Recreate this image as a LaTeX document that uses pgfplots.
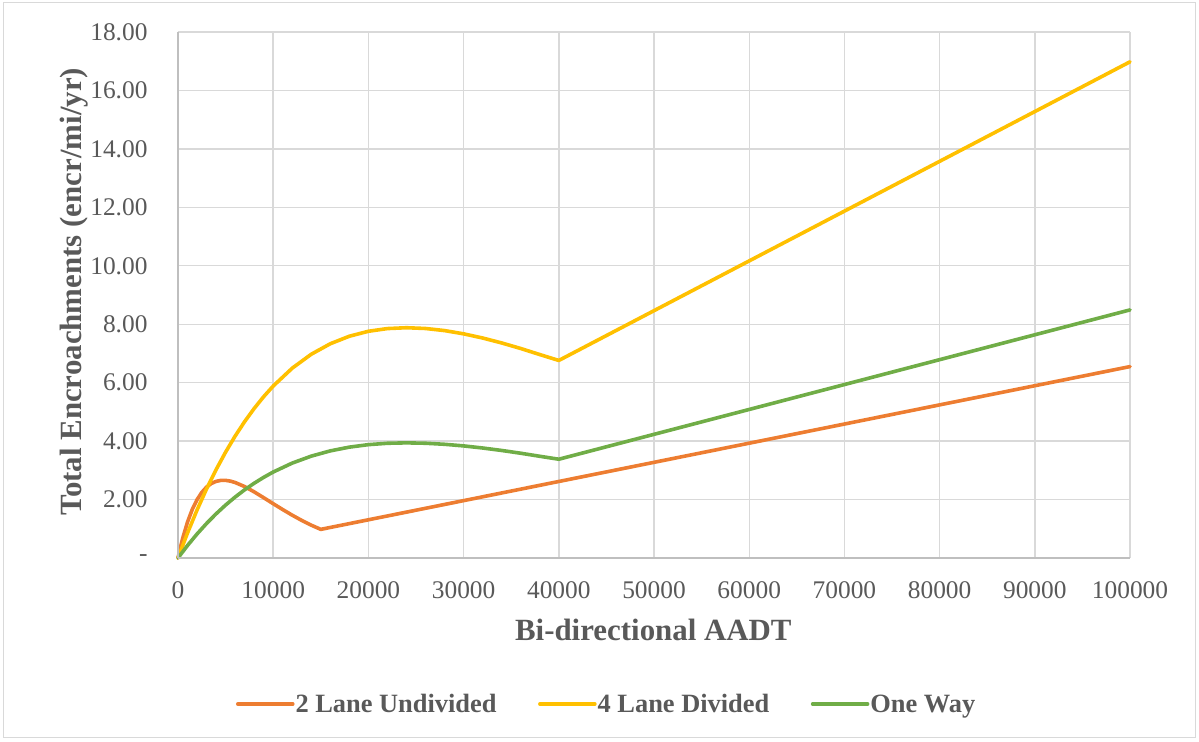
\documentclass[border=0pt]{standalone}
\usepackage{fontspec}
\setmainfont{Liberation Serif}
\usepackage{pgfplots}
\pgfplotsset{compat=1.18}
\definecolor{cOrange}{HTML}{ED7D31}
\definecolor{cYellow}{HTML}{FFC000}
\definecolor{cGreen}{HTML}{70AD47}
\definecolor{cGrid}{HTML}{D9D9D9}
\definecolor{cText}{HTML}{595959}
\definecolor{cAxis}{HTML}{BFBFBF}
\begin{document}
\begin{tikzpicture}[x=1bp,y=1bp]
\path[use as bounding box] (-178,-184) rectangle (1021,558);
\draw[cGrid, line width=1bp] (-174,-180) rectangle (1017,555);
\begin{axis}[
  scale only axis, width=952bp, height=526bp,
  xmin=0, xmax=100000, ymin=0, ymax=18,
  scaled x ticks=false, scaled y ticks=false,
  axis line style={draw=none},
  major tick length=0pt,
  grid=major, grid style={cGrid, line width=1.4bp},
  xtick={0,10000,...,100000},
  xticklabels={0,10000,20000,30000,40000,50000,60000,70000,80000,90000,100000},
  ytick={0,2,...,18},
  yticklabels={-\hspace{14.4bp},2.00,4.00,6.00,8.00,10.00,12.00,14.00,16.00,18.00},
  ticklabel style={font=\fontsize{25.5}{30}\selectfont, text=cText, inner sep=0pt},
  xticklabel style={anchor=base, yshift=-40.3bp},
  yticklabel style={anchor=east, xshift=-30.3bp},
  xlabel={Bi-directional AADT},
  xlabel style={at={(axis description cs:0.4993,-0.1572)}, anchor=base, font=\bfseries\fontsize{31}{36}\selectfont, text=cText, inner sep=0pt},
  ylabel={Total Encroachments (encr/mi/yr)},
  ylabel style={at={(axis description cs:-0.1092,0.506)}, anchor=center, font=\bfseries\fontsize{31}{36}\selectfont, text=cText, inner sep=0pt},
  clip=false,
  legend columns=3,
  legend cell align=left,
  legend style={at={(axis description cs:0.0609,-0.2776)}, anchor=west, draw=none, fill=none, inner sep=0pt, outer sep=0pt,
    font=\bfseries\fontsize{26.5}{30}\selectfont, text=cText,
    nodes={inner sep=0pt},
    /tikz/every odd column/.append style={column sep=1bp},
    /tikz/every even column/.append style={column sep=41.5bp}},
  legend image code/.code={\draw[#1] (0bp,0bp) -- (55bp,0bp);},
  every axis plot/.append style={line width=3.6bp, line join=round, line cap=round},
]
\addplot[cOrange] coordinates {
(0,0) (250,0.360) (500,0.684) (1000,1.231) (1500,1.663) (2000,1.996) (2500,2.246) (3000,2.427) (3500,2.549) (4000,2.622) (4500,2.656) (5000,2.657) (5500,2.631) (6000,2.584) (7000,2.444) (8000,2.263) (9000,2.063) (10000,1.858) (11000,1.657) (12000,1.465) (13000,1.286) (14000,1.123) (15000,0.980) (100000,6.55)
};
\addlegendentry{2 Lane Undivided}
\addplot[cYellow] coordinates {
(0,0) (1000,0.856) (2000,1.642) (3000,2.363) (4000,3.022) (5000,3.623) (6000,4.171) (7000,4.667) (8000,5.116) (9000,5.521) (10000,5.884) (12000,6.496) (14000,6.973) (16000,7.332) (18000,7.589) (20000,7.758) (22000,7.851) (24000,7.880) (26000,7.854) (28000,7.782) (30000,7.671) (32000,7.528) (34000,7.359) (36000,7.169) (38000,6.962) (40000,6.76) (100000,16.98)
};
\addlegendentry{4 Lane Divided}
\addplot[cGreen] coordinates {
(0,0) (1000,0.428) (2000,0.821) (3000,1.181) (4000,1.511) (5000,1.812) (6000,2.085) (7000,2.334) (8000,2.558) (9000,2.760) (10000,2.942) (12000,3.248) (14000,3.486) (16000,3.666) (18000,3.794) (20000,3.879) (22000,3.926) (24000,3.940) (26000,3.927) (28000,3.891) (30000,3.836) (32000,3.764) (34000,3.680) (36000,3.585) (38000,3.481) (40000,3.38) (100000,8.49)
};
\addlegendentry{One Way}
\draw[cAxis, line width=1.4bp] (axis cs:0,0) -- (axis cs:100000,0);
\draw[cAxis, line width=1.4bp] (axis cs:0,0) -- (axis cs:0,18);
\end{axis}
\end{tikzpicture}
\end{document}
